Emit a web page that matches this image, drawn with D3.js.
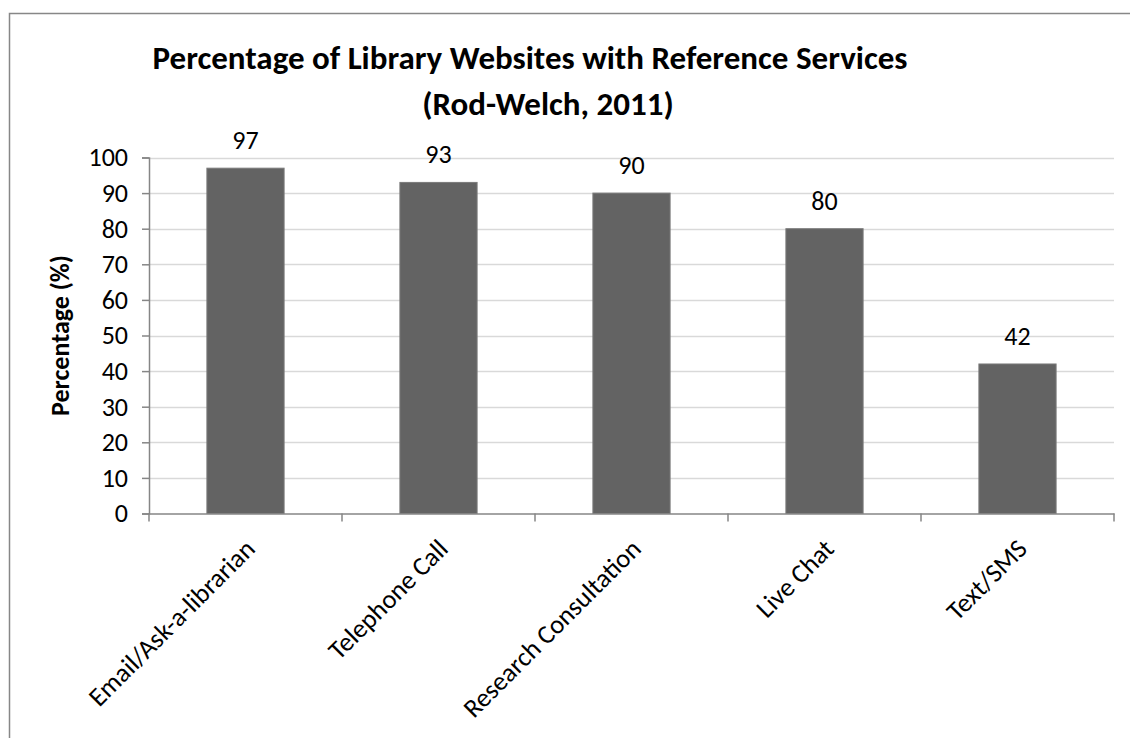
<!DOCTYPE html>
<html>
<head>
<meta charset="utf-8">
<script src="https://cdn.jsdelivr.net/npm/d3@7"></script>
<style>
  html, body { margin: 0; padding: 0; background: #fff; }
  svg { display: block; }
  text { font-family: Carlito, Lato, "Open Sans", sans-serif; fill: #000; }
</style>
</head>
<body>
<svg id="chart" width="1130" height="738"></svg>
<script>
const categories = ["Email/Ask-a-librarian", "Telephone Call", "Research Consultation", "Live Chat", "Text/SMS"];
const values = [97, 93, 90, 80, 42];
const yTicks = [0, 10, 20, 30, 40, 50, 60, 70, 80, 90, 100];
const titleLines = ["Percentage of Library Websites with Reference Services", "(Rod-Welch, 2011)"];
const yAxisTitle = "Percentage (%)";

const svg = d3.select("#chart");
const W = 1130, H = 738;
const plot = { left: 149, right: 1114, top: 157.5, bottom: 513.5 };

// chart border
svg.append("rect")
  .attr("x", 9.5).attr("y", 13.5)
  .attr("width", W + 10).attr("height", H + 10)
  .attr("fill", "none").attr("stroke", "#878787").attr("stroke-width", 1.5);

const x = d3.scaleBand().domain(categories).range([plot.left, plot.right]).paddingInner(0.6).paddingOuter(0.3);
const xb = d3.scaleBand().domain(categories).range([plot.left, plot.right]);
const y = d3.scaleLinear().domain([0, 100]).range([plot.bottom, plot.top]);

// gridlines
svg.append("g").selectAll("line").data(yTicks.filter(d => d > 0)).join("line")
  .attr("x1", plot.left).attr("x2", plot.right)
  .attr("y1", d => Math.round(y(d)) + 0.5).attr("y2", d => Math.round(y(d)) + 0.5)
  .attr("stroke", "#d9d9d9").attr("stroke-width", 1.5);

// bars
svg.append("g").selectAll("rect").data(values).join("rect")
  .attr("x", (d, i) => x(categories[i]))
  .attr("y", d => y(d))
  .attr("width", x.bandwidth())
  .attr("height", d => y(0) - y(d))
  .attr("fill", "#636363")
  .attr("stroke", "#7a7a7a").attr("stroke-width", 1);

// y axis
const yAxis = d3.axisLeft(y).tickValues(yTicks).tickSize(7).tickPadding(14);
const gy = svg.append("g").attr("transform", `translate(${plot.left},0)`).call(yAxis);
gy.select(".domain").attr("stroke", "#868686").attr("stroke-width", 1.5);
gy.selectAll(".tick line").attr("stroke", "#868686").attr("stroke-width", 1.5);
gy.selectAll(".tick text").style("font-size", "26px").attr("fill", "#000")
  .style("font-family", "Carlito, Lato, sans-serif");

// x axis
const xAxis = d3.axisBottom(xb).tickSize(0).tickFormat("");
const gx = svg.append("g").attr("transform", `translate(0,${plot.bottom})`).call(xAxis);
gx.select(".domain").attr("stroke", "#868686").attr("stroke-width", 1.5);
// tick marks at band boundaries
const bounds = categories.map(c => xb(c)).concat([plot.right]);
gx.append("g").selectAll("line").data(bounds).join("line")
  .attr("x1", d => d).attr("x2", d => d).attr("y1", 0).attr("y2", 8)
  .attr("stroke", "#868686").attr("stroke-width", 1.5);

// category labels rotated
svg.append("g").selectAll("text").data(categories).join("text")
  .attr("transform", d => `translate(${xb(d) + xb.bandwidth() / 2 + 11},${plot.bottom + 37}) rotate(-45)`)
  .attr("text-anchor", "end")
  .style("font-size", "26.4px")
  .text(d => d);

// data labels
svg.append("g").selectAll("text").data(values).join("text")
  .attr("x", (d, i) => x(categories[i]) + x.bandwidth() / 2)
  .attr("y", d => y(d) - 19)
  .attr("text-anchor", "middle")
  .style("font-size", "26px")
  .text(d => d);

// title
const title = svg.append("text").attr("text-anchor", "middle")
  .style("font-size", "33px").style("font-weight", "bold");
title.append("tspan").attr("x", 530).attr("y", 69).text(titleLines[0]);
title.append("tspan").attr("x", 548).attr("y", 115).text(titleLines[1]);

// y axis title
svg.append("text")
  .attr("transform", `translate(69,${(plot.top + plot.bottom) / 2}) rotate(-90)`)
  .attr("text-anchor", "middle")
  .style("font-size", "26px").style("font-weight", "bold")
  .text(yAxisTitle);
</script>
</body>
</html>
